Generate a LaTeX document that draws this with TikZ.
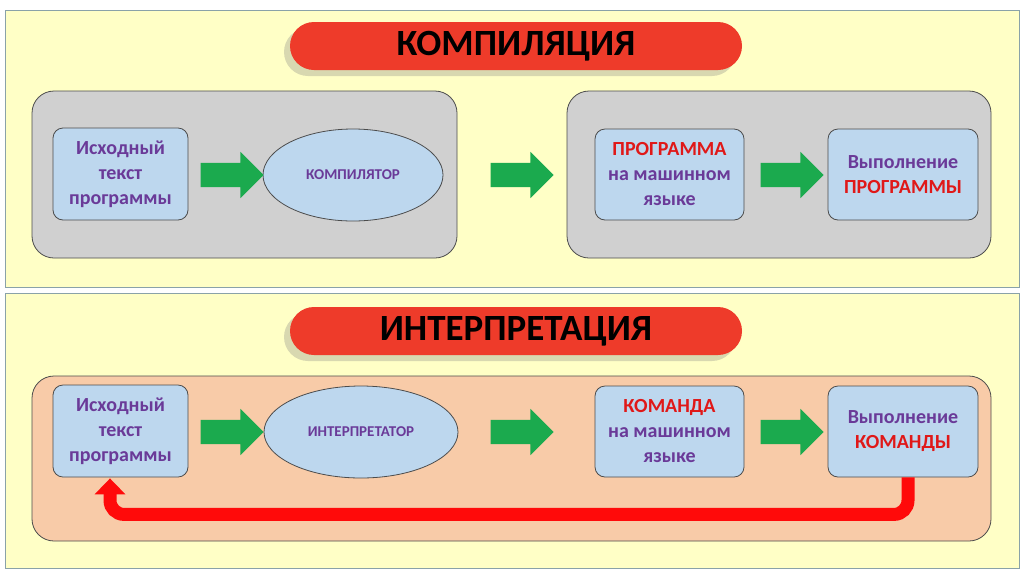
\documentclass[tikz,border=0pt]{standalone}
\usepackage{fontspec}
\setmainfont{Carlito}
\usetikzlibrary{shapes.arrows,shapes.geometric,shadows,arrows.meta}
\definecolor{paneY}{HTML}{FFFFC6}
\definecolor{paneLine}{HTML}{8AA2A8}
\definecolor{grayBox}{HTML}{D0D0D0}
\definecolor{peach}{HTML}{F8CBA8}
\definecolor{blueBox}{HTML}{BDD7EE}
\definecolor{txtP}{HTML}{6A3A98}
\definecolor{txtR}{HTML}{E01818}
\definecolor{pill}{HTML}{EE3B2A}
\definecolor{arrowG}{HTML}{1BAA4E}
\definecolor{loopR}{HTML}{FF0A0A}
\tikzset{
  pane/.style={draw=paneLine, fill=paneY, line width=0.8pt},
  group/.style={draw=black!70, rounded corners=22pt, line width=0.8pt},
  bbox/.style={draw=black!70, fill=blueBox, rounded corners=10pt, minimum width=135pt, minimum height=92pt, align=center, font=\bfseries\fontsize{20}{25}\selectfont, text=txtP, line width=0.8pt},
  oval/.style={ellipse, draw=black!70, fill=blueBox, font=\bfseries\fontsize{15}{17}\selectfont, text=txtP, line width=0.8pt},
  garrow/.style={single arrow, fill=arrowG, minimum height=63pt, minimum width=46pt, single arrow head extend=11pt, inner xsep=0pt, inner ysep=12pt, single arrow tip angle=90},
  pillbox/.style={fill=pill, rounded corners=24pt, minimum width=452pt, minimum height=48pt, font=\bfseries\fontsize{37}{40}\selectfont, text=black, drop shadow={shadow xshift=-6pt, shadow yshift=-6pt, opacity=0.3}}
}
\begin{document}
\begin{tikzpicture}[x=1pt,y=-1pt]
\useasboundingbox (0,0) rectangle (1024,574);
\fill[white] (0,0) rectangle (1024,574);
\draw[pane] (5,10) rectangle (1019,287);
\draw[pane] (5,293) rectangle (1019,568);
\node[pillbox] (t1) at (516,46) {КОМПИЛЯЦИЯ};
\node[pillbox] (t2) at (516,331) {ИНТЕРПРЕТАЦИЯ};
% top
\draw[group, fill=grayBox] (32,91) rectangle (457,258);
\draw[group, fill=grayBox] (567,91) rectangle (991,258);
\node[bbox] (src1) at (120.5,174) {Исходный\\текст\\программы};
\node[oval, minimum width=180pt, minimum height=92pt] (comp) at (353,175) {КОМПИЛЯТОР};
\node[garrow] (a1) at (226,175) {};
\node[garrow] (a2) at (516,175) {};
\node[bbox, minimum width=149pt, minimum height=91pt] (prog) at (669.5,174.5) {\textcolor{txtR}{ПРОГРАММА}\\на машинном\\языке};
\node[garrow] (a3) at (786,175) {};
\node[bbox, minimum width=150pt, minimum height=91pt] (ex1) at (903,174.5) {Выполнение\\\textcolor{txtR}{ПРОГРАММЫ}};
% bottom
\draw[group, fill=peach] (32,376) rectangle (991,541);
\node[bbox] (src2) at (120.5,431) {Исходный\\текст\\программы};
\node[oval, minimum width=194pt, minimum height=92pt] (intr) at (361,432) {ИНТЕРПРЕТАТОР};
\node[garrow] (b1) at (226,432) {};
\node[garrow] (b2) at (516,432) {};
\node[bbox, minimum width=149pt, minimum height=91pt] (cmd) at (669.5,431.5) {\textcolor{txtR}{КОМАНДА}\\на машинном\\языке};
\node[garrow] (b3) at (786,432) {};
\node[bbox, minimum width=150pt, minimum height=91pt] (ex2) at (903,431.5) {Выполнение\\\textcolor{txtR}{КОМАНДЫ}};
\coordinate (lpA) at ([xshift=5pt]ex2.south);
\coordinate (lpB) at ([xshift=-10.5pt,yshift=-1pt]src2.south);
\draw[loopR, line width=13pt, rounded corners=14pt, -{Triangle[length=16pt,width=30pt]}]
  (lpA) -- ++(0,37) -| (lpB);
\end{tikzpicture}
\end{document}
